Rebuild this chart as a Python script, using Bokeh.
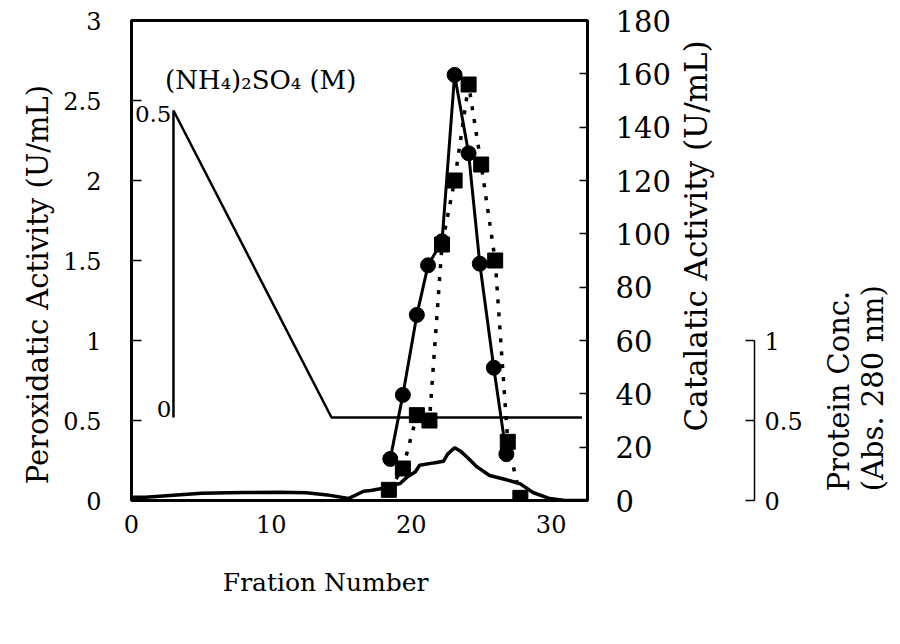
import math
from bokeh.plotting import figure
from bokeh.models import Range1d, LinearAxis, FixedTicker, Label
from bokeh.embed import file_html
from bokeh.resources import INLINE

# ---------------- data ----------------
fraction_ticks = [0, 10, 20, 30]
fraction_tick_labels = ["0", "10", "20", "30"]
perox_ticks = [0, 0.5, 1, 1.5, 2, 2.5, 3]
perox_tick_labels = ["0", "0.5", "1", "1.5", "2", "2.5", "3"]
catal_ticks = [0, 20, 40, 60, 80, 100, 120, 140, 160, 180]
catal_tick_labels = ["0", "20", "40", "60", "80", "100", "120", "140", "160", "180"]
protein_ticks = [0, 0.5, 1]
protein_tick_labels = ["0", "0.5", "1"]
salt_ticks = [0, 0.5]
salt_tick_labels = ["0", "0.5"]

# Peroxidatic activity (U/mL), filled circles, solid line
perox_x = [18.5, 19.4, 20.4, 21.2, 22.2, 23.1, 24.1, 24.9, 25.9, 26.8]
perox_y = [0.26, 0.66, 1.16, 1.47, 1.62, 2.66, 2.17, 1.48, 0.83, 0.29]

# Catalatic activity (U/mL), filled squares, dotted line
catal_x = [18.4, 19.4, 20.4, 21.3, 22.2, 23.1, 24.1, 25.0, 26.0, 26.9, 27.8]
catal_y = [4, 12, 32, 30, 96, 120, 156, 126, 90, 22, 1]

# Protein concentration (Abs. 280 nm)
protein_x = [0.0, 1.0, 2.5, 5.0, 8.0, 10.6, 12.5, 14.0, 15.5, 16.6, 17.1, 18.0, 18.5,
             19.2, 19.7, 20.3, 20.6, 21.6, 22.3, 22.6, 23.1, 23.5, 24.0, 24.7, 25.6,
             26.8, 27.8, 28.7, 29.9, 31.0, 32.6]
protein_y = [0.02, 0.02, 0.03, 0.046, 0.05, 0.052, 0.048, 0.035, 0.012, 0.058, 0.062,
             0.077, 0.094, 0.106, 0.146, 0.18, 0.22, 0.235, 0.245, 0.29, 0.33, 0.31,
             0.27, 0.21, 0.156, 0.13, 0.104, 0.05, 0.012, 0.0, 0.0]

# (NH4)2SO4 gradient (M)
salt_x = [3.0, 3.0, 14.3, 32.2]
salt_y = [0.0, 0.5, 0.0, 0.0]

FONT = "DejaVu Serif"
NBSP = "\u00a0"

p = figure(frame_width=456, frame_height=480,
           min_border_left=131, min_border_right=309,
           min_border_top=20, min_border_bottom=140,
           x_range=Range1d(0, 32.6), y_range=Range1d(0, 3),
           output_backend="svg", toolbar_location=None, tools="")
p.extra_y_ranges = {"cat": Range1d(0, 180), "prot": Range1d(0, 3),
                    "salt": Range1d(-0.1352, 0.6465)}
p.grid.visible = False
p.outline_line_color = "black"
p.outline_line_width = 3
p.background_fill_color = "white"
p.border_fill_color = "white"


def style_axis(ax, tick_size, label_size):
    ax.minor_tick_line_color = None
    ax.major_label_text_font = FONT
    ax.major_label_text_font_size = tick_size
    ax.major_label_text_color = "black"
    ax.axis_label_text_font = FONT
    ax.axis_label_text_font_size = label_size
    ax.axis_label_text_font_style = "normal"
    ax.axis_label_text_color = "black"
    ax.major_tick_line_color = "black"
    ax.axis_line_color = "black"


has_align = "axis_label_align" in LinearAxis().properties()
has_orient = "axis_label_orientation" in LinearAxis().properties()
shift = has_align and has_orient

# left axis
ya = p.yaxis[0]
style_axis(ya, "24px", "29px")
ya.ticker = FixedTicker(ticks=perox_ticks)
ya.major_label_overrides = {float(t): l for t, l in zip(perox_ticks, perox_tick_labels)}
ya.major_tick_in = 10
ya.major_tick_out = 0
ya.major_tick_line_width = 1.5
ya.axis_line_width = 3
ya.major_label_standoff = 30
ya.axis_label = "Peroxidatic Activity (U/mL)" + (NBSP * 7 if shift else "")
ya.axis_label_standoff = 12
if shift:
    ya.axis_label_orientation = math.pi / 2
    ya.axis_label_align = "end"
    ya.axis_label_standoff = 22
    ya.axis_label_text_line_height = 0.7

# bottom axis
xa = p.xaxis[0]
style_axis(xa, "24px", "25px")
xa.ticker = FixedTicker(ticks=fraction_ticks)
xa.major_label_overrides = {float(t): l for t, l in zip(fraction_ticks, fraction_tick_labels)}
xa.major_tick_in = 0
xa.major_tick_out = 0
xa.axis_line_width = 3
xa.major_label_standoff = 14
xa.axis_label = "Fration Number" + (NBSP * 20 if shift else "")
xa.axis_label_standoff = 47 if shift else 31
if shift:
    xa.axis_label_orientation = 0.0
    xa.axis_label_align = "end"

# right axis: catalatic activity
ra = LinearAxis(y_range_name="cat", ticker=FixedTicker(ticks=catal_ticks))
style_axis(ra, "29px", "31px")
ra.major_label_overrides = {float(t): l for t, l in zip(catal_ticks, catal_tick_labels)}
ra.major_tick_in = 8
ra.major_tick_out = 0
ra.major_tick_line_width = 1.5
ra.axis_line_width = 3
ra.major_label_standoff = 28
ra.axis_label = (NBSP * 7 if shift else "") + "Catalatic Activity (U/mL)"
ra.axis_label_standoff = 22
p.add_layout(ra, "right")

# invisible spacer between the two right-hand scales
sp = LinearAxis(y_range_name="prot", ticker=FixedTicker(ticks=[1.0]))
sp.major_label_overrides = {1.0: "0"}
sp.major_label_text_color = "#ffffff"
sp.major_label_text_font_size = "2px"
sp.major_label_standoff = 16
sp.major_tick_out = 0
sp.major_tick_in = 0
sp.axis_line_color = None
sp.major_tick_line_color = None
sp.minor_tick_line_color = None
p.add_layout(sp, "right")

# protein axis
pa = LinearAxis(y_range_name="prot", ticker=FixedTicker(ticks=protein_ticks), bounds=(0, 1))
style_axis(pa, "24px", "29px")
pa.major_label_overrides = {float(t): l for t, l in zip(protein_ticks, protein_tick_labels)}
pa.major_tick_in = 9
pa.major_tick_out = 0
pa.major_tick_line_width = 1.5
pa.axis_line_width = 1.5
pa.major_label_standoff = 10
pa.axis_label = (NBSP if shift else "") + "Protein Conc.\n" + (NBSP if shift else "") + "(Abs. 280 nm)"
pa.axis_label_standoff = 50
pa.axis_label_text_line_height = 1.0
p.add_layout(pa, "right")

if shift:
    for ax in (ra, pa):
        ax.axis_label_orientation = math.pi / 2
        ax.axis_label_align = "start"

# glyphs
p.line(protein_x, protein_y, y_range_name="prot", line_color="black", line_width=3.5)
p.line(salt_x, salt_y, y_range_name="salt", line_color="black", line_width=2.5)
p.line(catal_x, catal_y, y_range_name="cat", line_color="black", line_width=3.5, line_dash="4 9")
p.scatter(catal_x, catal_y, y_range_name="cat", marker="square", size=15,
          fill_color="black", line_color="black")
p.line(perox_x, perox_y, line_color="black", line_width=3)
p.scatter(perox_x, perox_y, marker="circle", size=15, fill_color="black", line_color="black")

# salt scale labels and title
for val, lab, base in zip(salt_ticks, salt_tick_labels, ("bottom", "middle")):
    p.add_layout(Label(x=salt_x[0], y=val, y_range_name="salt", text=lab, x_offset=-2,
                       y_offset=-4 if base == "middle" else 0,
                       text_align="right", text_baseline=base,
                       text_font=FONT, text_font_size="23px", text_color="black"))
p.add_layout(Label(x=2.4, y=2.63, text="(NH\u2084)\u2082SO\u2084 (M)", text_baseline="middle",
                   text_font=FONT, text_font_size="26px", text_color="black"))

open("out.html", "w").write(file_html(p, INLINE))
